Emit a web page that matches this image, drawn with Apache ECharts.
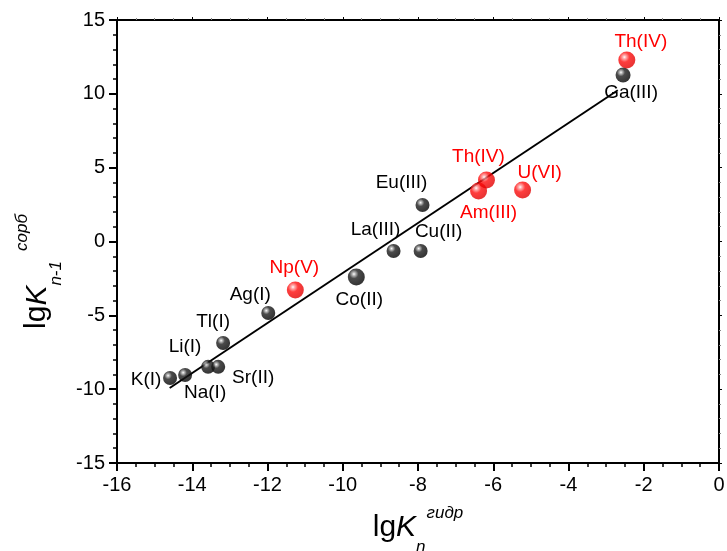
<!DOCTYPE html>
<html>
<head>
<meta charset="utf-8">
<script src="https://cdn.jsdelivr.net/npm/echarts@6/dist/echarts.min.js"></script>
<style>html,body{margin:0;padding:0;background:#fff}#c{width:727px;height:551px}</style>
</head>
<body>
<div id="c"></div>
<script>
// ---- data ----
const blackNames = ['K(I)','Na(I)','Li(I)','Sr(II)','Tl(I)','Ag(I)','Co(II)','La(III)','Cu(II)','Eu(III)','Ga(III)'];
const blackX = [-14.59,-14.19,-13.58,-13.31,-13.18,-11.98,-9.64,-8.65,-7.93,-7.88,-2.55];
const blackY = [-9.24,-9.04,-8.49,-8.49,-6.87,-4.84,-2.40,-0.64,-0.64,2.47,11.28];
const redNames = ['Np(V)','Am(III)','Th(IV)','U(VI)','Th(IV)'];
const redX = [-11.26,-6.39,-6.18,-5.22,-2.45];
const redY = [-3.28,3.42,4.17,3.49,12.29];
const fitX = [-14.6,-2.69];
const fitY = [-9.92,10.24];
const xTicks = [-16,-14,-12,-10,-8,-6,-4,-2,0];
const yTicks = [-15,-10,-5,0,5,10,15];

// ---- layout / style (label offsets in px, not data) ----
const blackLabelOffsets = [[-24,2],[20,18],[-23,-20],[35,11],[-10,-21],[-18,-18],[3,23],[-18,-21],[18,-19],[-21,-22],[8,18]];
const redLabelOffsets = [[-1,-22],[10,22],[-8,-23],[17,-17],[14,-18]];
const blackSizes = [14,14,14,14,14,14,17,14,14,14,15];
const FONT = 'Arial, "Liberation Sans", sans-serif';

const blackGrad = {type:'radial',x:0.36,y:0.33,r:0.7,colorStops:[
  {offset:0,color:'#ffffff'},{offset:0.12,color:'#b0b0b0'},{offset:0.38,color:'#1e1e1e'},{offset:1,color:'#000'}]};
const redGrad = {type:'radial',x:0.36,y:0.33,r:0.7,colorStops:[
  {offset:0,color:'#ffffff'},{offset:0.14,color:'#ff9c9c'},{offset:0.42,color:'#ff0d0d'},{offset:1,color:'#e00000'}]};

function pts(xs, ys, names, offs, color, sizes, sz) {
  return xs.map((x,i)=>({
    value:[x, ys[i]], name:names[i],
    symbolSize: sizes ? sizes[i] : sz,
    label:{show:true, formatter:names[i], position:'inside', offset:offs[i],
      color:color, fontSize:19, fontFamily:FONT, textBorderWidth:0, textShadowBlur:0, opacity:1}
  }));
}

const mainT = {fontSize:30,fontFamily:FONT,color:'#000',lineHeight:56};
const smallT = {fontSize:17,fontFamily:FONT,fontStyle:'italic',color:'#000',lineHeight:17};

const chart = echarts.init(document.getElementById('c'), null, {renderer:'canvas'});
const axisCommon = {
  axisLine:{show:true,onZero:false,lineStyle:{color:'#000',width:2}},
  splitLine:{show:false}
};
chart.setOption({
  animation:false,
  backgroundColor:'#fff',
  grid:{left:117,right:8,top:20,bottom:88,containLabel:false,outerBoundsMode:'none'},
  xAxis:[{
    type:'value',min:xTicks[0],max:xTicks[xTicks.length-1],interval:2,position:'bottom',
    ...axisCommon,
    axisTick:{show:true,inside:false,length:8,lineStyle:{width:2,color:'#000'}},
    minorTick:{show:true,splitNumber:4,length:4,lineStyle:{width:1.5,color:'#000'}},
    axisLabel:{color:'#000',fontSize:20,fontFamily:FONT,margin:12},
    name:'{a|lg}{k|K}{sub|n}{sup|гидр}',
    nameLocation:'middle',nameGap:32,
    nameTextStyle:{rich:{
      a:mainT,
      k:{...mainT,fontStyle:'italic'},
      sub:{...smallT,verticalAlign:'bottom'},
      sup:{...smallT,verticalAlign:'top',padding:[5,0,0,1]}
    }}
  },{
    type:'value',min:xTicks[0],max:xTicks[xTicks.length-1],interval:2,position:'top',
    ...axisCommon,
    axisTick:{show:true,inside:false,length:3,lineStyle:{width:1,color:'#000'}},
    minorTick:{show:true,splitNumber:4,length:2,lineStyle:{width:1,color:'#888'}},
    axisLabel:{show:false}
  }],
  yAxis:[{
    type:'value',min:yTicks[0],max:yTicks[yTicks.length-1],interval:5,position:'left',
    ...axisCommon,
    axisTick:{show:true,inside:false,length:8,lineStyle:{width:2,color:'#000'}},
    minorTick:{show:true,splitNumber:5,length:4,lineStyle:{width:1.5,color:'#000'}},
    axisLabel:{color:'#000',fontSize:20,fontFamily:FONT,margin:12},
    name:'{a|lg}{k|K}{sub|n-1}{sp| }{sup|сорб}{pad|}',
    nameLocation:'middle',nameGap:50,nameRotate:90,
    nameTextStyle:{rich:{
      a:mainT,
      k:{...mainT,fontStyle:'italic'},
      sub:{...smallT,verticalAlign:'bottom'},
      sp:{fontSize:17,width:10},
      sup:{...smallT,verticalAlign:'top',padding:[5,0,0,0]},
      pad:{width:60}
    }}
  },{
    type:'value',min:yTicks[0],max:yTicks[yTicks.length-1],interval:5,position:'right',
    ...axisCommon,
    axisTick:{show:true,inside:false,length:3,lineStyle:{width:1,color:'#000'}},
    minorTick:{show:true,splitNumber:5,length:2,lineStyle:{width:1,color:'#888'}},
    axisLabel:{show:false}
  }],
  series:[
    {type:'line',data:fitX.map((x,i)=>[x,fitY[i]]),symbol:'none',
     lineStyle:{color:'#000',width:2},silent:true,z:1},
    {type:'scatter',data:pts(blackX,blackY,blackNames,blackLabelOffsets,'#000',blackSizes),
     itemStyle:{color:blackGrad},emphasis:{disabled:true},z:3},
    {type:'scatter',data:pts(redX,redY,redNames,redLabelOffsets,'#ff0000',null,17),
     itemStyle:{color:redGrad},emphasis:{disabled:true},z:3}
  ]
});
</script>
</body>
</html>
